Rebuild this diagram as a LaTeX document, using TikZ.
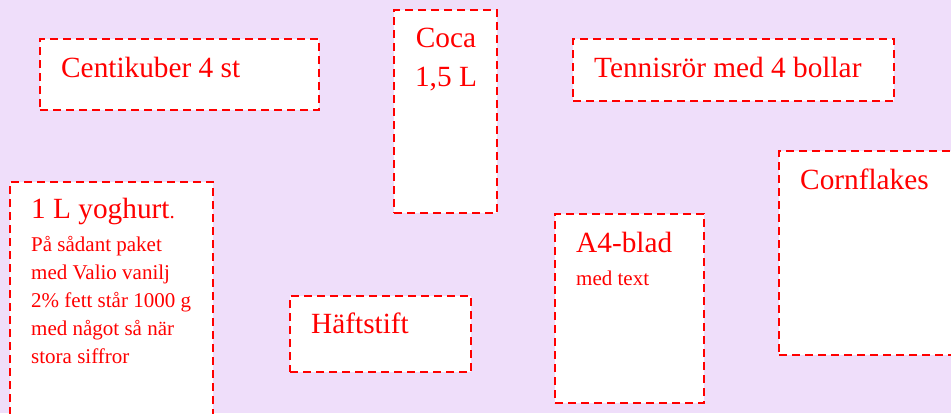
\documentclass[tikz,border=0pt]{standalone}
\usepackage{fontspec}
\setmainfont{Liberation Serif}
\usepackage{tikz}
\definecolor{lavender}{RGB}{239,222,250}

\begin{document}
\begin{tikzpicture}[x=1pt, y=-1pt,
	box/.style={draw=red, fill=white, line width=2pt, dash pattern=on 8pt off 5pt, outer sep=0pt, inner sep=0pt, anchor=north west},
	big/.style={text=red, inner sep=0pt, font=\fontsize{29.3}{34}\selectfont},
	small/.style={text=red, inner sep=0pt, font=\fontsize{21}{28}\selectfont}]
	\useasboundingbox (0,0) rectangle (951,413);
	\clip (0,0) rectangle (951,413);
	\fill[lavender] (0,0) rectangle (951,413);
	% boxes
	\node[box, minimum width=279, minimum height=71] (centikuber) at (40,39) {};
	\node[box, minimum width=103, minimum height=203] (coca) at (394,10) {};
	\node[box, minimum width=321, minimum height=62] (tennis) at (573,39) {};
	\node[box, minimum width=203, minimum height=240] (yoghurt) at (10,182) {};
	\node[box, minimum width=181, minimum height=76] (haftstift) at (290,296) {};
	\node[box, minimum width=149, minimum height=189] (blad) at (555,214) {};
	\node[box, minimum width=185, minimum height=204] (cornflakes) at (779,151) {};
	% texts
	\node[big, anchor=base west] (centikubertxt) at (61,77) {Centikuber 4 st};
	\node[big, anchor=base] (cocatxt) at (446,47) {Coca};
	\node[big, anchor=base] (literstxt) at (446,86) {1,5 L};
	\node[big, anchor=base west] (tennistxt) at (594,77) {Tennisrör med 4 bollar};
	\node[big, anchor=base west] (yoghurttxt) at (31,218) {1 L yoghurt{\fontsize{21}{24}\selectfont.}};
	\foreach \line [count=\i] in {På sådant paket, med Valio vanilj, 2\% fett står 1000 g, med något så när, stora siffror}
		\node[small, anchor=base west] (yoghurt\i) at (31,223+28*\i) {\line};
	\node[big, anchor=base west] (haftstifttxt) at (311,333) {Häftstift};
	\node[big, anchor=base west] (bladtxt) at (576,252) {A4-blad};
	\node[small, anchor=base west] (medtext) at (576,285) {med text};
	\node[big, anchor=base west] (cornflakestxt) at (800,189) {Cornflakes};
\end{tikzpicture}
\end{document}
